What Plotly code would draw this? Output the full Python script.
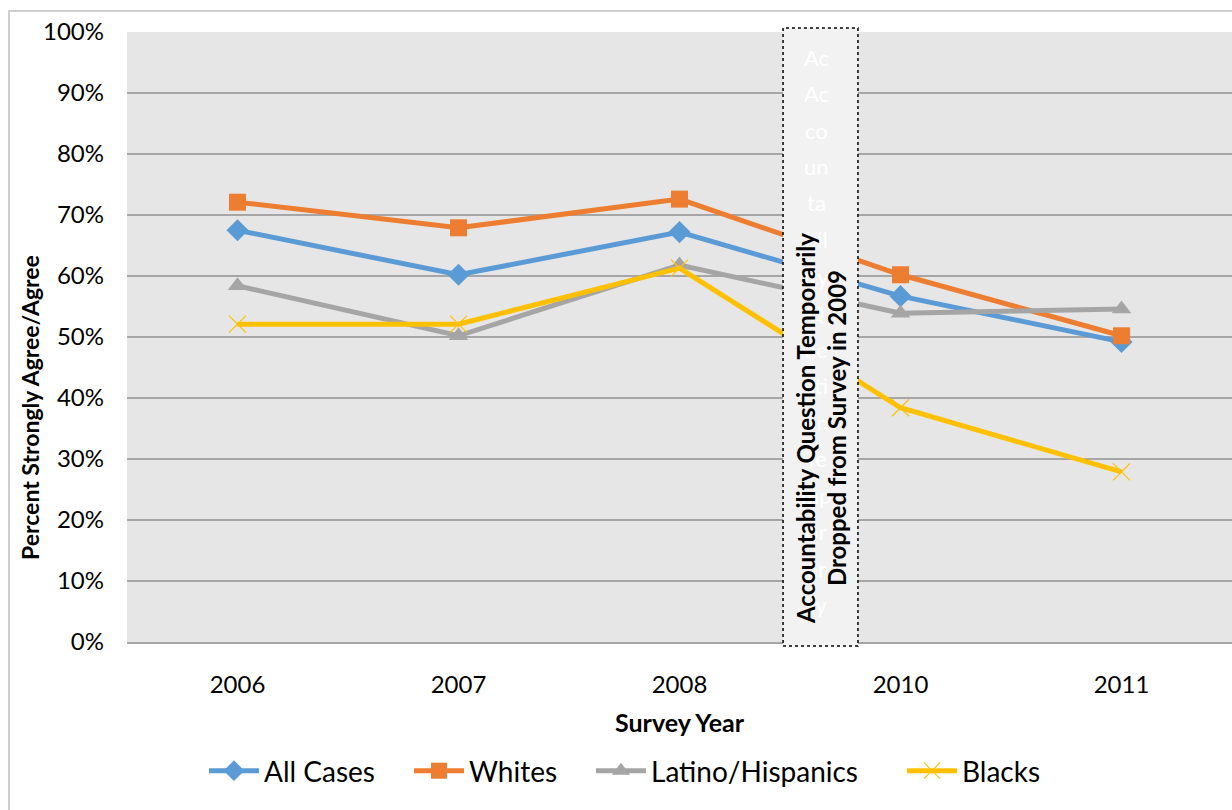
import plotly.graph_objects as go

years = ["2006", "2007", "2008", "2010", "2011"]
all_cases = [67.5, 60.2, 67.2, 56.7, 49.2]
whites = [72.1, 67.9, 72.6, 60.2, 50.2]
latino = [58.4, 50.2, 61.8, 53.9, 54.6]
blacks = [52.1, 52.1, 61.3, 38.4, 27.9]
y_ticks = [0, 10, 20, 30, 40, 50, 60, 70, 80, 90, 100]
y_tick_labels = [f"{v}%" for v in y_ticks]

FONT = "Lato"

fig = go.Figure()
fig.add_trace(go.Scatter(x=years, y=all_cases, name="All Cases", mode="lines+markers",
                         line=dict(color="#5B9BD5", width=5), legend="legend",
                         marker=dict(symbol="diamond", size=17, color="#5B9BD5")))
fig.add_trace(go.Scatter(x=years, y=whites, name="Whites", mode="lines+markers",
                         line=dict(color="#ED7D31", width=5), legend="legend2",
                         marker=dict(symbol="square", size=17, color="#ED7D31")))
fig.add_trace(go.Scatter(x=years, y=latino, name="Latino/Hispanics", mode="lines+markers",
                         line=dict(color="#A5A5A5", width=5), legend="legend3",
                         marker=dict(symbol="triangle-up", size=17, color="#A5A5A5")))
fig.add_trace(go.Scatter(x=years, y=blacks, name="Blacks", mode="lines+markers",
                         line=dict(color="#FFC000", width=5), legend="legend4",
                         marker=dict(symbol="x-thin", size=17, color="#FFC000",
                                     line=dict(color="#FFC000", width=1.2))))

shapes = [
    # outer chart border
    dict(type="rect", xref="paper", yref="paper", x0=-0.1068, x1=1.02, y0=-0.30, y1=1.0344,
         line=dict(color="#BFBFBF", width=1.5), fillcolor="rgba(0,0,0,0)", layer="below"),
    # text box over missing 2009
    dict(type="rect", xref="paper", yref="paper", x0=0.5937, x1=0.6615, y0=-0.0066, y1=1.0066,
         line=dict(color="#000000", width=1.5, dash="dot"), fillcolor="#F2F2F2", layer="above"),
]

annotations = []
faint = ["Ac", "Ac", "co", "un", "ta", "bil", "ity", "Q", "ue", "sti", "on", "Te", "mp", "or", "ar", "ily"]
for i, t in enumerate(faint):
    annotations.append(dict(text=t, xref="paper", yref="paper", x=(816 - 127) / 1105,
                            y=(642 - (57 + i * 36.5)) / 610, showarrow=False,
                            font=dict(family=FONT, size=22, color="#FFFFFF"),
                            xanchor="center", yanchor="middle"))

annotations += [
    dict(text="<b>Survey Year</b>", xref="paper", yref="paper", x=(680 - 127) / 1105,
         y=(642 - 722) / 610, showarrow=False, font=dict(family=FONT, size=25, color="#000"),
         xanchor="center", yanchor="middle"),
    dict(text="<b>Percent Strongly Agree/Agree</b>", xref="paper", yref="paper",
         x=(30 - 127) / 1105, y=(642 - 408) / 610, textangle=-90, showarrow=False,
         font=dict(family=FONT, size=23, color="#000"), xanchor="center", yanchor="middle"),
    dict(text="<b>Accountability Question Temporarily<br>Dropped from Survey in 2009</b>",
         xref="paper", yref="paper", x=(821 - 127) / 1105, y=(642 - 429) / 610, textangle=-90,
         showarrow=False, font=dict(family=FONT, size=24, color="#000"),
         xanchor="center", yanchor="middle"),
]


def legend_at(px):
    return dict(orientation="h", x=(px - 127) / 1105, xanchor="left", y=(642 - 771) / 610,
                yanchor="middle", font=dict(family=FONT, size=28, color="#000"),
                itemwidth=50, bgcolor="rgba(0,0,0,0)")


fig.update_layout(
    width=1232, height=810,
    margin=dict(l=127, r=0, t=32, b=168),
    paper_bgcolor="#FFFFFF",
    plot_bgcolor="#E6E6E6",
    font=dict(family=FONT, size=24, color="#000"),
    showlegend=True,
    legend=legend_at(204),
    legend2=legend_at(409),
    legend3=legend_at(591),
    legend4=legend_at(902),
    shapes=shapes,
    annotations=annotations,
)
fig.update_xaxes(type="category", range=[-0.5, 4.5], showgrid=False, showline=True,
                 linecolor="#A6A6A6", linewidth=1.5, ticks="", ticklabelstandoff=20,
                 tickfont=dict(family=FONT, size=24, color="#000"), fixedrange=True)
fig.update_yaxes(range=[0, 100], tickvals=y_ticks, ticktext=y_tick_labels, showgrid=True,
                 gridcolor="#A6A6A6", gridwidth=1.5, zeroline=False, showline=False,
                 ticks="", ticklabelstandoff=22,
                 tickfont=dict(family=FONT, size=24, color="#000"), fixedrange=True)

fig.write_html("out.html")
